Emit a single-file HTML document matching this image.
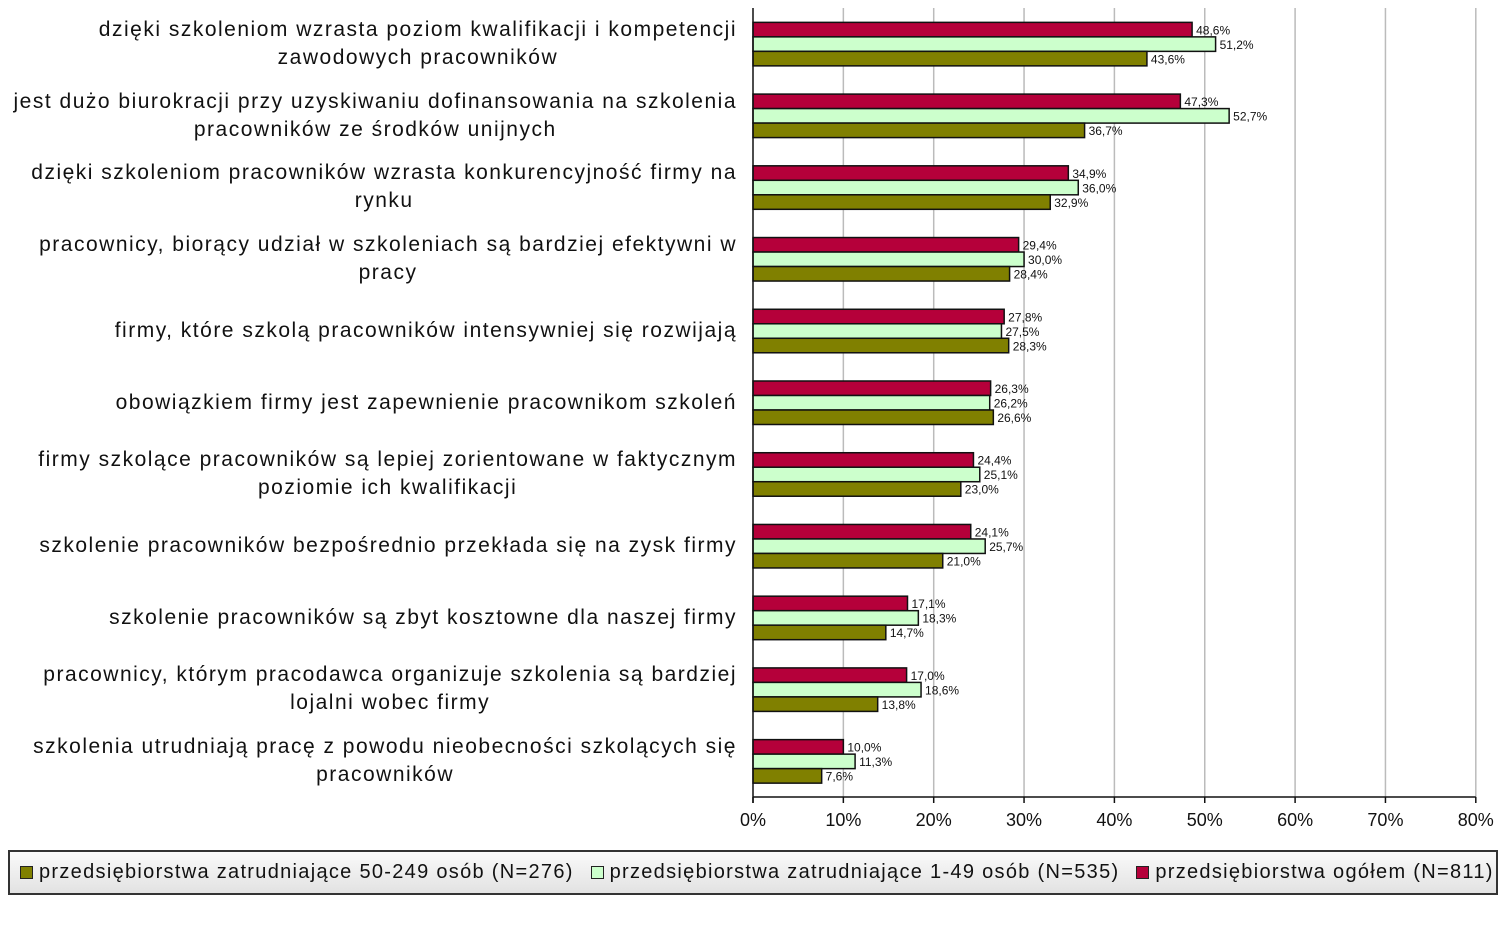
<!DOCTYPE html>
<html><head><meta charset="utf-8"><style>
body{margin:0;width:1510px;height:930px;background:#fff;overflow:hidden;font-family:"Liberation Sans","DejaVu Sans",sans-serif;}
#c{position:absolute;left:0;top:0}
.lab{position:absolute;right:773px;text-align:center;font-size:21px;line-height:28px;color:#111;transform:translateY(-50%);white-space:nowrap;letter-spacing:1.5px}
#legend{position:absolute;left:8px;top:850px;width:1490px;height:45px;border:2px solid #333;box-sizing:border-box;background:linear-gradient(#fafafa,#e2e2e2);font-size:20px;line-height:41px;color:#111;white-space:nowrap;letter-spacing:1.3px}
.sw{display:inline-block;width:11px;height:11px;border:1.5px solid #222;margin:0 6px 0 10px;vertical-align:-1px}
</style></head><body>
<svg id="c" width="1510" height="930"></svg>
<div id="labs"></div>
<div id="legend"><span class="sw" style="background:#808000"></span>przedsiębiorstwa zatrudniające 50-249 osób (N=276) <span class="sw" style="background:#ccffcc"></span>przedsiębiorstwa zatrudniające 1-49 osób (N=535) <span class="sw" style="background:#b5003a"></span>przedsiębiorstwa ogółem (N=811)</div>
<script>
var cats=[
"dzięki szkoleniom wzrasta poziom kwalifikacji i kompetencji<br>zawodowych pracowników",
"jest dużo biurokracji przy uzyskiwaniu dofinansowania na szkolenia<br>pracowników ze środków unijnych",
"dzięki szkoleniom pracowników wzrasta konkurencyjność firmy na<br>rynku",
"pracownicy, biorący udział w szkoleniach są bardziej efektywni w<br>pracy",
"firmy, które szkolą pracowników intensywniej się rozwijają",
"obowiązkiem firmy jest zapewnienie pracownikom szkoleń",
"firmy szkolące pracowników są lepiej zorientowane w faktycznym<br>poziomie ich kwalifikacji",
"szkolenie pracowników bezpośrednio przekłada się na zysk firmy",
"szkolenie pracowników są zbyt kosztowne dla naszej firmy",
"pracownicy, którym pracodawca organizuje szkolenia są bardziej<br>lojalni wobec firmy",
"szkolenia utrudniają pracę z powodu nieobecności szkolących się<br>pracowników"];
var d=[[48.6,51.2,43.6],[47.3,52.7,36.7],[34.9,36.0,32.9],[29.4,30.0,28.4],[27.8,27.5,28.3],[26.3,26.2,26.6],[24.4,25.1,23.0],[24.1,25.7,21.0],[17.1,18.3,14.7],[17.0,18.6,13.8],[10.0,11.3,7.6]];
var x0=753,u=9.035,pt=8,pb=797,h=(pb-pt)/11;
var cols=["#b5003a","#ccffcc","#808000"];
var s="";
for(var k=1;k<=8;k++){var x=x0+k*10*u;s+='<line x1="'+x+'" y1="'+pt+'" x2="'+x+'" y2="'+pb+'" stroke="#bbb" stroke-width="1.5"/>';}
var L="";
for(var i=0;i<11;i++){var c=pt+h*(i+0.5);
 for(var j=0;j<3;j++){var y=c-21.5+j*14.5,w=d[i][j]*u;
  s+='<rect x="'+x0+'" y="'+y+'" width="'+w+'" height="14.5" fill="'+cols[j]+'" stroke="#111" stroke-width="1.5"/>';
  s+='<text x="'+(x0+w+4)+'" y="'+(y+12)+'" font-size="12" fill="#111">'+d[i][j].toFixed(1).replace(".",",")+'%</text>';}
 L+='<div class="lab" style="top:'+c+'px">'+cats[i]+'</div>';}
s+='<line x1="'+x0+'" y1="'+pt+'" x2="'+x0+'" y2="'+(pb+6)+'" stroke="#111" stroke-width="1.5"/>';
s+='<line x1="'+x0+'" y1="'+pb+'" x2="'+(x0+80*u)+'" y2="'+pb+'" stroke="#111" stroke-width="1.5"/>';
for(var k=0;k<=8;k++){var x=x0+k*10*u;s+='<line x1="'+x+'" y1="'+pb+'" x2="'+x+'" y2="'+(pb+6)+'" stroke="#111" stroke-width="1.5"/>';
 s+='<text x="'+x+'" y="826" font-size="18" text-anchor="middle" fill="#111">'+(k*10)+'%</text>';}
document.getElementById("c").innerHTML=s;
document.getElementById("labs").innerHTML=L;
</script>
</body></html>
